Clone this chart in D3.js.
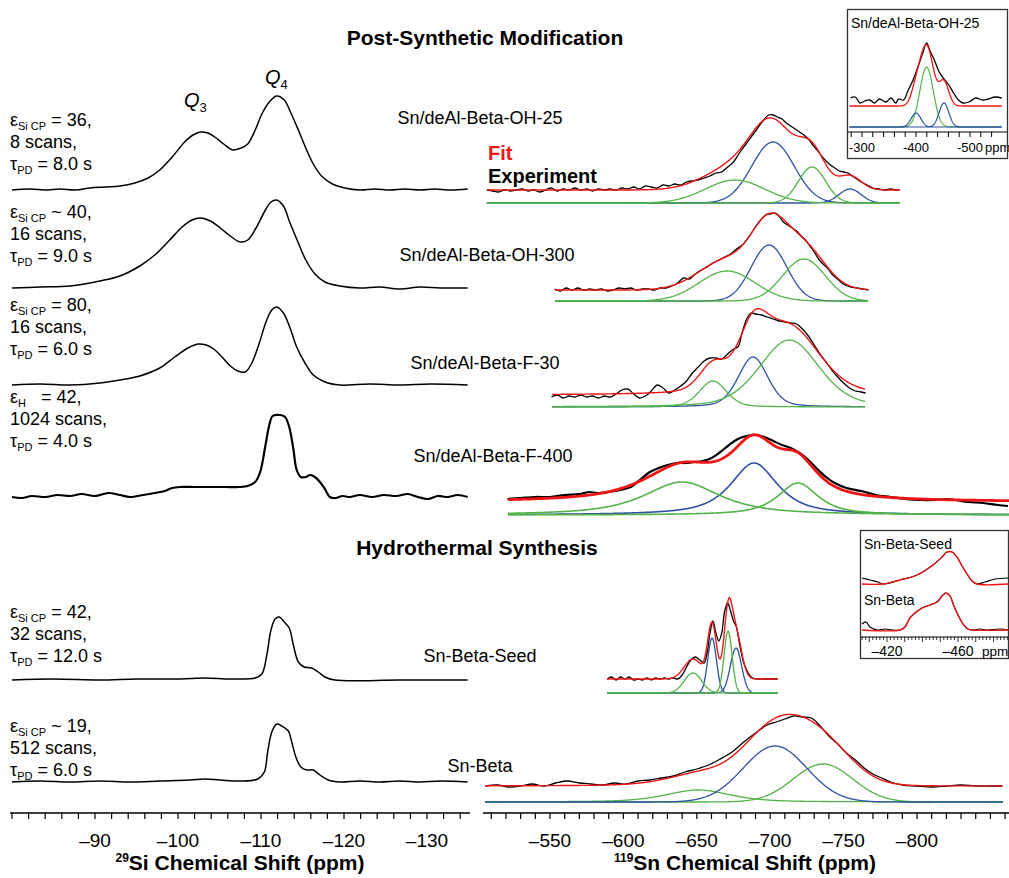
<!DOCTYPE html>
<html>
<head>
<meta charset="utf-8">
<script src="https://cdn.jsdelivr.net/npm/d3@7"></script>
<style>
body { margin: 0; background: #fff; }
text { font-family: Arial, "Liberation Sans", sans-serif; fill: #000; }
</style>
</head>
<body>
<svg id="fig" width="1009" height="878"></svg>
<script>
// ---------- 29Si spectra, [ppm, intensity a.u.] ----------
let siOH25 = [[-80,0],[-82.2,1],[-84,0],[-85.8,1],[-87.6,0],[-89.4,2],[-91.2,3],[-93,4],[-94.8,7],[-96.4,12],[-97.8,20],[-99.3,33],[-100.8,48],[-101.8,55],[-102.7,58],[-103.6,57],[-104.6,52],[-105.5,46],[-106.6,40],[-107.6,42],[-108.4,46],[-109.3,60],[-110.1,76],[-111.1,89],[-111.9,94],[-112.8,90],[-113.6,77],[-114.5,60],[-115.4,42],[-116.3,26],[-117.3,14],[-118.6,6],[-120.1,2],[-121.9,0],[-123.7,1],[-125.5,0],[-127.3,1],[-129.2,0],[-130.9,1],[-132.8,0],[-134.9,1]];
let siOH300 = [[-80,0],[-83.4,1],[-87,2],[-90.6,7],[-93,12],[-95.4,22],[-97.2,33],[-99,48],[-100.5,61],[-101.7,68],[-102.7,70],[-103.9,67],[-105.1,60],[-106.3,52],[-107.5,46],[-108.4,48],[-109.4,60],[-110.4,76],[-111.2,86],[-111.9,88],[-112.7,82],[-113.5,65],[-114.5,45],[-115.4,28],[-116.5,14],[-117.7,6],[-119.5,2],[-121.9,0],[-124.3,1],[-126.7,-1],[-129.2,1],[-131.6,0],[-134.9,0]];
let siF30 = [[-80,0],[-83.4,1],[-87,0],[-90.6,2],[-93,5],[-95.4,9],[-97.8,17],[-99.6,28],[-101.2,37],[-102.4,41],[-103.4,40],[-104.3,36],[-105.3,28],[-106.3,19],[-107.2,14],[-108.1,13],[-108.9,22],[-109.8,42],[-110.6,63],[-111.3,75],[-111.9,78],[-112.7,72],[-113.5,57],[-114.3,38],[-115.3,22],[-116.3,10],[-117.7,3],[-119.5,0],[-123.1,1],[-126.7,0],[-130.4,1],[-134.9,0]];
let siF400 = [[-80,0],[-81.2,-1],[-82.4,1],[-84,0],[-85.5,2],[-87,1],[-88.4,3],[-90,1],[-91.6,4],[-93,2],[-94.2,0],[-95.8,2],[-97.2,4],[-98.4,6],[-99.3,9],[-100.2,10],[-102,10],[-103.9,10],[-105.7,10],[-107.5,10],[-108.4,11],[-109.3,15],[-109.9,25],[-110.5,50],[-111,72],[-111.4,81],[-112.3,82],[-112.9,80],[-113.4,70],[-113.9,48],[-114.3,27],[-114.8,20],[-115.4,20],[-115.9,22],[-116.5,20],[-117.1,15],[-117.7,8],[-118.3,0],[-119,-1],[-119.8,1],[-120.7,0],[-121.9,2],[-123.4,0],[-124.8,2],[-126.3,1],[-127.7,3],[-128.9,0],[-130.1,-2],[-131.3,1],[-132.5,0],[-133.7,2],[-134.9,0]];
let siSeed = [[-80,0],[-85,1],[-90.6,0],[-95,1],[-100.2,1],[-103.3,2],[-106.3,1],[-109.3,2],[-110.1,6],[-110.7,25],[-111.2,50],[-111.7,61],[-112.2,63],[-112.8,58],[-113.4,52],[-113.9,35],[-114.5,18],[-115.2,13],[-116.1,12],[-116.9,8],[-117.7,3],[-118.9,0],[-126.7,0],[-134.9,0]];
let siBeta = [[-80,0],[-83.4,1],[-87,0],[-90.6,1],[-94.2,0],[-97.8,1],[-101.4,2],[-103.3,3],[-105.1,2],[-107.5,1],[-109.6,3],[-110.4,10],[-110.8,30],[-111.3,50],[-111.9,58],[-112.5,56],[-113.3,51],[-113.7,40],[-114.2,25],[-114.8,15],[-115.5,12],[-116.3,12],[-117.1,7],[-118.1,2],[-119.5,0],[-121.9,1],[-124.3,0],[-126.7,1],[-129.2,0],[-131.6,1],[-134.9,0]];

let siEpsSub = ["Si CP", "Si CP", "Si CP", "H", "Si CP", "Si CP"];
let siEpsVal = [" = 36,", " ~ 40,", " = 80,", "   = 42,", " = 42,", " ~ 19,"];
let siScans = ["8 scans,", "16 scans,", "16 scans,", "1024 scans,", "32 scans,", "512 scans,"];
let siTau = ["8.0", "9.0", "6.0", "4.0", "12.0", "6.0"];
let sampleNames = ["Sn/deAl-Beta-OH-25", "Sn/deAl-Beta-OH-300", "Sn/deAl-Beta-F-30", "Sn/deAl-Beta-F-400", "Sn-Beta-Seed", "Sn-Beta"];

// ---------- 119Sn experimental traces, [ppm, intensity a.u.] ----------
let snExpOH25 = [[-507,13],[-511,12],[-515,11],[-519,13],[-523,12],[-527,13],[-531,14],[-535,12],[-539,13],[-543,11],[-547,13],[-551,15],[-555,12],[-559,14],[-563,13],[-567,15],[-571,13],[-575,14],[-579,12],[-583,14],[-587,13],[-591,14],[-595,13],[-599,15],[-603,14],[-607,16],[-611,14],[-615,17],[-619,16],[-623,15],[-627,18],[-631,17],[-635,19],[-639,18],[-643,21],[-647,22],[-651,23],[-655,25],[-659,27],[-663,30],[-667,31],[-671,36],[-675,41],[-679,50],[-683,58],[-687,66],[-691,74],[-695,82],[-699,88],[-702,88],[-705,86],[-708,84],[-711,80],[-714,77],[-717,74],[-720,71],[-723,68],[-726,64],[-729,58],[-732,53],[-735,47],[-738,42],[-741,38],[-744,35],[-747,32],[-750,31],[-753,30],[-756,27],[-759,24],[-762,21],[-766,18],[-770,15],[-774,14],[-778,13],[-782,14],[-786,13],[-788,13]];
let snExpOH300 = [[-553,12],[-557,10],[-561,13],[-565,11],[-569,13],[-573,11],[-577,12],[-581,11],[-585,12],[-589,10],[-593,11],[-597,13],[-601,12],[-605,13],[-609,11],[-613,12],[-617,12],[-621,11],[-625,13],[-629,13],[-633,15],[-637,18],[-641,23],[-645,22],[-649,27],[-653,31],[-657,34],[-661,38],[-665,41],[-669,44],[-673,47],[-677,52],[-681,56],[-685,63],[-689,72],[-693,80],[-697,86],[-700,87],[-703,88],[-706,85],[-709,79],[-712,76],[-715,73],[-718,70],[-721,65],[-724,61],[-727,55],[-730,49],[-733,42],[-736,37],[-739,33],[-742,27],[-745,23],[-748,19],[-751,16],[-755,14],[-759,13],[-763,12],[-767,11]];
let snExpF30 = [[-551,10],[-555,12],[-559,9],[-563,11],[-567,10],[-571,12],[-575,10],[-579,11],[-583,9],[-587,11],[-591,10],[-595,13],[-599,17],[-603,18],[-607,13],[-611,9],[-615,11],[-619,16],[-623,22],[-627,19],[-631,14],[-635,17],[-639,21],[-643,26],[-647,34],[-651,40],[-655,46],[-659,49],[-663,49],[-667,48],[-671,53],[-675,58],[-678,60],[-681,75],[-684,88],[-687,94],[-690,93],[-694,92],[-698,90],[-702,88],[-706,86],[-710,85],[-714,84],[-718,83],[-722,78],[-726,71],[-730,62],[-734,53],[-738,45],[-742,37],[-746,30],[-750,24],[-754,19],[-758,16],[-762,15],[-765,14]];
let snExpF400 = [[-521,16],[-530,17],[-540,18],[-550,18],[-560,20],[-570,21],[-577,23],[-582,22],[-590,23],[-598,25],[-605,28],[-612,36],[-618,43],[-624,47],[-630,50],[-636,52],[-642,52],[-648,53],[-654,54],[-660,57],[-666,63],[-672,70],[-678,76],[-684,79],[-690,80],[-696,78],[-702,74],[-708,70],[-714,67],[-720,62],[-726,55],[-732,46],[-738,38],[-744,32],[-752,27],[-762,24],[-772,20],[-782,18],[-792,16],[-802,15],[-812,15],[-820,16],[-826,15],[-835,13],[-845,12],[-855,10],[-862,9]];
let snExpSeed = [[-589,14],[-592,16],[-595,13],[-598,16],[-601,14],[-604,16],[-607,13],[-610,14],[-613,13],[-616,15],[-619,13],[-622,15],[-625,14],[-628,15],[-631,14],[-634,15],[-637,14],[-640,18],[-643,26],[-646,33],[-649,36],[-652,33],[-655,30],[-657,40],[-659,60],[-661,72],[-663,60],[-665,52],[-667,60],[-669,82],[-671,90],[-673,82],[-675,72],[-677,66],[-679,50],[-682,30],[-685,20],[-688,15],[-692,14],[-696,14],[-700,14],[-705,14]];
let snExpBeta = [[-506,16],[-514,17],[-522,15],[-530,16],[-538,18],[-546,16],[-554,19],[-562,21],[-570,19],[-578,18],[-586,17],[-594,19],[-602,18],[-610,21],[-618,22],[-626,24],[-634,26],[-642,30],[-650,33],[-658,37],[-666,43],[-674,50],[-682,60],[-690,69],[-698,77],[-704,80],[-710,83],[-716,86],[-722,85],[-728,84],[-734,76],[-740,66],[-746,58],[-752,49],[-758,42],[-764,34],[-770,28],[-776,24],[-782,20],[-790,17],[-800,16],[-810,15],[-820,16],[-830,17],[-840,16],[-850,16],[-858,16]];

// fitted peaks: [centre ppm, height, fwhm ppm, lorentzian fraction, site]
let snPeaksOH25 = [[-701.9,61,34,0,"b"],[-754.4,14,17.7,0,"b"],[-676,23,47.7,0,"g"],[-728.5,36,21.8,0,"g"]];
let snPeaksOH300 = [[-699.2,56,28.6,0,"b"],[-670.6,30,45,0,"g"],[-723,42,34,0,"g"]];
let snPeaksF30 = [[-688.3,50,23.8,0.3,"b"],[-661,26,21.8,0.3,"g"],[-713,67,48,0.3,"g"]];
let snPeaksF400 = [[-689,52,38.1,0.8,"b"],[-639.9,33,62,0.8,"g"],[-718.9,32,32.7,0.8,"g"]];
let snPeaksSeed = [[-660.4,55,7,0,"b"],[-676.7,45,9,0,"b"],[-647.4,20,14,0,"g"],[-671.3,62,6.5,0,"g"]];
let snPeaksBeta = [[-650.8,12,52,0.5,"g"],[-736,38,47.7,0,"g"],[-703.3,56,51,0,"b"]];
let snFitOffset = [13, 11, 12, 13, 14, 16];
let snRange = [[-507,-788.4],[-553.4,-766.6],[-551.4,-764.6],[-521.4,-862.7],[-588.8,-705.3],[-505.7,-858.6]];

// inset: Sn/deAl-Beta-OH-25 (dehydrated)
let in1Exp = [[-278.6,29],[-287.5,30],[-296.4,24],[-305,26],[-314.3,27],[-323.2,24],[-332.1,28],[-344.6,25],[-353.6,29],[-362.5,24],[-367.9,28],[-376.8,27],[-385.7,37],[-394.6,47],[-403.6,60],[-412.5,74],[-419.6,84],[-426.8,75],[-433.9,67],[-442.9,55],[-451.8,48],[-460.7,42],[-469.6,34],[-478.6,27],[-487.5,24],[-498.2,25],[-510.7,29],[-523.2,27],[-533.9,28],[-546.4,30],[-558.9,29]];
let in1Peaks = [[-419.6,60,29,0,"g"],[-400,14,21,0,"b"],[-451.8,24,21,0,"b"]];
let in1FitOffset = 21;
let in1Range = [-276.8, -559];
let in1TickLabels = ["-300", "-400", "-500"];

// inset: Sn-Beta-Seed / Sn-Beta (dehydrated)
let in2SeedFit = [[-405.9,0],[-417.7,0],[-427.3,4],[-436.9,9],[-445.9,19],[-451,27],[-453.8,32],[-456.6,32],[-459.4,27],[-462.3,18],[-465.1,10],[-467.9,3],[-470.7,0],[-488.5,0]];
let in2SeedExp = [[-405.9,6],[-410.4,4],[-414.9,2],[-417.7,0],[-427.3,4],[-436.9,9],[-445.9,19],[-451,27],[-453.8,32],[-456.6,32],[-459.4,27],[-462.3,18],[-465.1,10],[-467.9,3],[-470.7,0],[-475.2,2],[-480.8,5],[-488.5,6]];
let in2BetaFit = [[-405.9,0],[-427.3,0],[-430.1,3],[-432.9,12],[-435.8,17],[-439.7,22],[-444.2,25],[-448.2,28],[-451,34],[-453.2,37],[-455.5,34],[-457.7,24],[-460,15],[-462.8,6],[-465.6,1],[-468,0],[-488.5,0]];
let in2BetaExp = [[-405.9,6],[-408.2,8],[-410.4,3],[-414.9,0],[-418.9,1],[-422.8,0],[-427.3,0],[-430.1,3],[-432.9,12],[-435.8,17],[-439.7,22],[-444.2,25],[-448.2,28],[-451,34],[-453.2,37],[-455.5,34],[-457.7,24],[-460,15],[-462.8,6],[-465.6,1],[-468,0],[-472.4,1],[-476,0],[-483.7,1],[-488.5,0]];

// ---------- drawing ----------
const svg = d3.select("#fig");
const RED = "#f01515", BLUE = "#2d52a3", GREEN = "#52b447";
const siteColor = { b: BLUE, g: GREEN };

const xSi = d3.scaleLinear().domain([-80, -135]).range([12, 468.5]);
const xSn = d3.scaleLinear().domain([-550, -800]).range([550, 917]);
const amp = d3.scaleLinear().domain([0, 100]).range([0, 100]);

const siBase = [190, 288, 385, 497, 680, 782];
const snBase = [203, 301, 407, 515, 693, 802];
const siLabelY = [126, 218, 311, 403, 618, 732];
const nameXY = [[480,124],[487,261],[485,369],[493,462],[480,662],[480,772]];

function pv(ppm, p) {
	let d = (ppm - p[0]) / p[2];
	let g = Math.exp(-4 * Math.LN2 * d * d);
	let l = 1 / (1 + 4 * d * d);
	return p[1] * ((1 - p[3]) * g + p[3] * l);
}

function traceLine(xs, base, smooth) {
	return d3.line()
		.x(d => xs(d[0]))
		.y(d => base - amp(d[1]))
		.curve(smooth ? d3.curveCatmullRom.alpha(0.5) : d3.curveLinear);
}

function drawSn(g, xs, base, peaks, offset, range, exp, opts) {
	let grid = d3.range(range[0], range[1] - 0.01, -0.5).concat([range[1]]);
	let order = opts.blueOnTop ? ["g", "b"] : ["b", "g"];
	order.forEach(site => {
		peaks.filter(p => p[4] === site).forEach(p => {
			g.append("path")
				.datum(grid.map(v => [v, pv(v, p)]))
				.attr("d", traceLine(xs, base, false))
				.attr("fill", "none")
				.attr("stroke", siteColor[site])
				.attr("stroke-width", opts.compW || 1.3);
		});
	});
	g.append("path")
		.datum(exp)
		.attr("d", traceLine(xs, base, true))
		.attr("fill", "none")
		.attr("stroke", "#000")
		.attr("stroke-width", opts.expW || 1.3);
	g.append("path")
		.datum(grid.map(v => [v, offset + d3.sum(peaks, p => pv(v, p))]))
		.attr("d", traceLine(xs, base, false))
		.attr("fill", "none")
		.attr("stroke", RED)
		.attr("stroke-width", opts.fitW || 1.3);
}

// titles
svg.append("text").attr("x", 485).attr("y", 45).attr("text-anchor", "middle")
	.style("font-size", "21px").style("font-weight", "bold").text("Post-Synthetic Modification");
svg.append("text").attr("x", 477).attr("y", 555).attr("text-anchor", "middle")
	.style("font-size", "21px").style("font-weight", "bold").text("Hydrothermal Synthesis");

// 29Si spectra
let siSpectra = [siOH25, siOH300, siF30, siF400, siSeed, siBeta];
siSpectra.forEach((s, i) => {
	svg.append("path")
		.datum(s)
		.attr("d", traceLine(xSi, siBase[i], true))
		.attr("fill", "none")
		.attr("stroke", "#000")
		.attr("stroke-width", i === 3 ? 2.2 : 1.5);

	let y0 = siLabelY[i];
	let t1 = svg.append("text").attr("x", 10).attr("y", y0).style("font-size", "18px").attr("xml:space", "preserve");
	t1.append("tspan").text("ε");
	t1.append("tspan").attr("dy", 4).style("font-size", "11px").text(siEpsSub[i]);
	t1.append("tspan").attr("dy", -4).text(siEpsVal[i]);
	svg.append("text").attr("x", 10).attr("y", y0 + 22).style("font-size", "18px").text(siScans[i]);
	let t3 = svg.append("text").attr("x", 10).attr("y", y0 + 44).style("font-size", "18px");
	t3.append("tspan").text("τ");
	t3.append("tspan").attr("dy", 4).style("font-size", "11px").text("PD");
	t3.append("tspan").attr("dy", -4).text(" = " + siTau[i] + " s");

	svg.append("text").attr("x", nameXY[i][0]).attr("y", nameXY[i][1]).attr("text-anchor", "middle")
		.style("font-size", "18px").text(sampleNames[i]);
});

// Q labels
[["3", 184, 107], ["4", 265, 84]].forEach(q => {
	let t = svg.append("text").attr("x", q[1]).attr("y", q[2]).style("font-size", "20px");
	t.append("tspan").style("font-style", "italic").text("Q");
	t.append("tspan").attr("dy", 5).style("font-size", "13px").text(q[0]);
});

// 119Sn spectra
let snExp = [snExpOH25, snExpOH300, snExpF30, snExpF400, snExpSeed, snExpBeta];
let snPeaks = [snPeaksOH25, snPeaksOH300, snPeaksF30, snPeaksF400, snPeaksSeed, snPeaksBeta];
snExp.forEach((e, i) => {
	let g = svg.append("g");
	drawSn(g, xSn, snBase[i], snPeaks[i], snFitOffset[i], snRange[i], e, {
		blueOnTop: i === 5,
		expW: i === 3 ? 2.2 : 1.3,
		fitW: i === 3 ? 2.8 : 1.4,
		compW: i === 3 ? 1.6 : 1.3
	});
});

svg.append("text").attr("x", 488).attr("y", 160).style("font-size", "20px").style("font-weight", "bold")
	.style("fill", RED).text("Fit");
svg.append("text").attr("x", 488).attr("y", 183).style("font-size", "20px").style("font-weight", "bold")
	.text("Experiment");

// main axes
function drawAxis(scale, y, ticks, labels, x0, x1) {
	let ax = svg.append("g").attr("transform", `translate(0,${y})`);
	ax.append("line").attr("x1", x0).attr("x2", x1).attr("y1", 0).attr("y2", 0)
		.attr("stroke", "#000").attr("stroke-width", 1.3);
	ax.selectAll(".tk").data(ticks).enter().append("line")
		.attr("x1", d => scale(d)).attr("x2", d => scale(d))
		.attr("y1", 0).attr("y2", 6)
		.attr("stroke", "#000").attr("stroke-width", 1.2);
	ax.selectAll(".lb").data(labels).enter().append("text")
		.attr("x", d => scale(d)).attr("y", 34)
		.attr("text-anchor", "middle")
		.style("font-size", "19px")
		.text(d => "\u2013" + Math.abs(d));
	return ax;
}
drawAxis(xSi, 813, d3.range(-80, -135, -2), [-90, -100, -110, -120, -130], 10, 470);
drawAxis(xSn, 813, d3.range(-510, -862, -10), [-550, -600, -650, -700, -750, -800], 483, 1009);

let tSi = svg.append("text").attr("x", 240).attr("y", 870).attr("text-anchor", "middle")
	.style("font-size", "21px").style("font-weight", "bold");
tSi.append("tspan").attr("dy", -8).style("font-size", "12px").text("29");
tSi.append("tspan").attr("dy", 8).text("Si Chemical Shift (ppm)");
let tSn = svg.append("text").attr("x", 745).attr("y", 870).attr("text-anchor", "middle")
	.style("font-size", "21px").style("font-weight", "bold");
tSn.append("tspan").attr("dy", -8).style("font-size", "12px").text("119");
tSn.append("tspan").attr("dy", 8).text("Sn Chemical Shift (ppm)");

// inset 1
const xIn1 = d3.scaleLinear().domain([-300, -500]).range([862, 970]);
let in1 = svg.append("g");
in1.append("rect").attr("x", 847.5).attr("y", 9.5).attr("width", 160).attr("height", 149)
	.attr("fill", "#fff").attr("stroke", "#333").attr("stroke-width", 1.3);
in1.append("text").attr("x", 851).attr("y", 28).style("font-size", "14px").text("Sn/deAl-Beta-OH-25");
drawSn(in1, xIn1, 127, in1Peaks, in1FitOffset, in1Range, in1Exp, { blueOnTop: true, expW: 1.3, fitW: 1.3, compW: 1.2 });
in1.append("line").attr("x1", 848).attr("x2", 1007).attr("y1", 132).attr("y2", 132).attr("stroke", "#000").attr("stroke-width", 1.2);
in1.selectAll(".tk").data(d3.range(-280, -560, -20)).enter().append("line")
	.attr("x1", d => xIn1(d)).attr("x2", d => xIn1(d)).attr("y1", 132).attr("y2", 137)
	.attr("stroke", "#000").attr("stroke-width", 1);
in1.selectAll(".lb").data([-300, -400, -500]).enter().append("text")
	.attr("x", d => xIn1(d)).attr("y", 152).attr("text-anchor", "middle").style("font-size", "13px")
	.text((d, i) => in1TickLabels[i]);
in1.append("text").attr("x", 985).attr("y", 152).style("font-size", "13px").text("ppm");

// inset 2
const xIn2 = d3.scaleLinear().domain([-420, -460]).range([887, 958]);
let in2 = svg.append("g");
in2.append("rect").attr("x", 860.5).attr("y", 530.5).attr("width", 148).attr("height", 128)
	.attr("fill", "#fff").attr("stroke", "#333").attr("stroke-width", 1.3);
in2.append("text").attr("x", 864).attr("y", 549).style("font-size", "14px").text("Sn-Beta-Seed");
in2.append("text").attr("x", 864).attr("y", 605).style("font-size", "14px").text("Sn-Beta");
[[in2SeedExp, in2SeedFit, 584], [in2BetaExp, in2BetaFit, 630]].forEach(r => {
	in2.append("path").datum(r[0]).attr("d", traceLine(xIn2, r[2], true))
		.attr("fill", "none").attr("stroke", "#000").attr("stroke-width", 1.2);
	in2.append("path").datum(r[1]).attr("d", traceLine(xIn2, r[2], true))
		.attr("fill", "none").attr("stroke", RED).attr("stroke-width", 1.3);
});
in2.append("line").attr("x1", 861).attr("x2", 1008).attr("y1", 637).attr("y2", 637).attr("stroke", "#000").attr("stroke-width", 1.2);
in2.selectAll(".tk").data(d3.range(-406, -489, -2)).enter().append("line")
	.attr("x1", d => xIn2(d)).attr("x2", d => xIn2(d)).attr("y1", 637).attr("y2", d => d % 10 === 0 ? 642 : 640)
	.attr("stroke", "#000").attr("stroke-width", 0.8);
in2.selectAll(".lb").data([-420, -460]).enter().append("text")
	.attr("x", d => xIn2(d)).attr("y", 656).attr("text-anchor", "middle").style("font-size", "14px")
	.text(d => "\u2013" + Math.abs(d));
in2.append("text").attr("x", 982).attr("y", 656).style("font-size", "13.5px").text("ppm");
</script>
</body>
</html>
